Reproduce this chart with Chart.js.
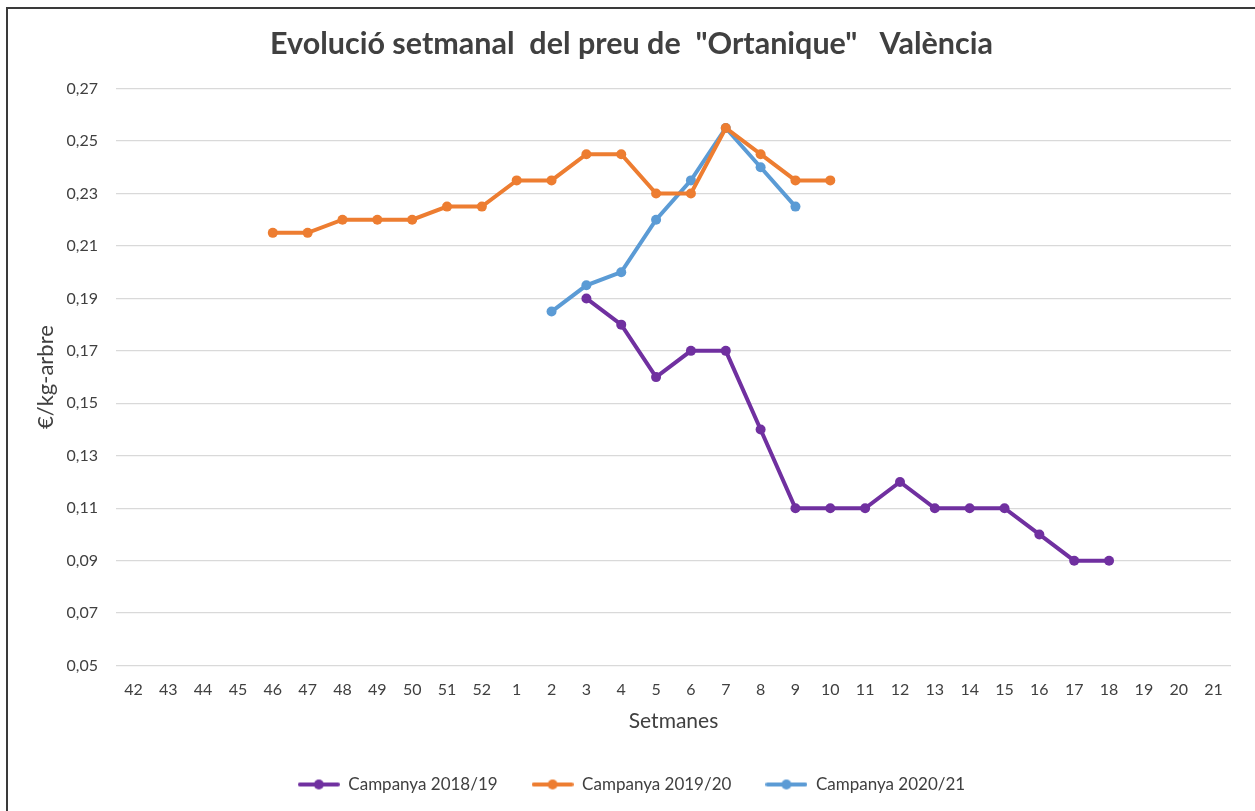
<!DOCTYPE html>
<html lang="ca">
<head>
    <meta charset="UTF-8">
    <title>Evolució setmanal del preu de Ortanique</title>
    <script src="https://cdn.jsdelivr.net/npm/chart.js"></script>
    <style>
        body { margin: 0; background: #fff; }
        .frame { position: absolute; left: 6px; top: 7px; width: 1300px; height: 900px; border: 2px solid #3a3a3a; box-sizing: border-box; }
        .wrap { position: absolute; left: 0; top: 0; width: 1255px; height: 811px; }
    </style>
</head>
<body>
    <div class="frame"></div>
    <div class="wrap">
        <canvas id="grafic" width="1255" height="811"></canvas>
    </div>
    <script>
        // setmanes de la campanya
        const setmanes = ['42','43','44','45','46','47','48','49','50','51','52',
            '1','2','3','4','5','6','7','8','9','10','11','12','13','14','15','16','17','18','19','20','21'];

        const campanya1819 = [null,null,null,null,null,null,null,null,null,null,null,
            null,null,0.19,0.18,0.16,0.17,0.17,0.14,0.11,0.11,0.11,0.12,0.11,0.11,0.11,0.10,0.09,0.09,null,null,null];
        const campanya1920 = [null,null,null,null,0.215,0.215,0.22,0.22,0.22,0.225,0.225,
            0.235,0.235,0.245,0.245,0.23,0.23,0.255,0.245,0.235,0.235,null,null,null,null,null,null,null,null,null,null,null];
        const campanya2021 = [null,null,null,null,null,null,null,null,null,null,null,
            null,0.185,0.195,0.20,0.22,0.235,0.255,0.24,0.225,null,null,null,null,null,null,null,null,null,null,null,null];

        const noms = ['Campanya 2018/19', 'Campanya 2019/20', 'Campanya 2020/21'];
        const colors = ['#7030A0', '#ED7D31', '#5B9BD5'];

        const textColor = '#404040';

        // petita icona linia + punt per a la llegenda
        function iconaLlegenda(color) {
            const c = document.createElement('canvas');
            c.width = 42; c.height = 12;
            const g = c.getContext('2d');
            g.strokeStyle = color;
            g.lineWidth = 4;
            g.lineCap = 'round';
            g.beginPath();
            g.moveTo(2, 6); g.lineTo(40, 6);
            g.stroke();
            g.fillStyle = color;
            g.beginPath();
            g.arc(21, 6, 5, 0, Math.PI * 2);
            g.fill();
            return c;
        }

        function serie(nom, dades, color) {
            return {
                label: nom,
                data: dades,
                borderColor: color,
                backgroundColor: color,
                borderWidth: 4,
                pointRadius: 5,
                pointHoverRadius: 5,
                pointBackgroundColor: color,
                pointBorderWidth: 0,
                tension: 0,
                spanGaps: false
            };
        }

        const ctx = document.getElementById('grafic').getContext('2d');
        new Chart(ctx, {
            type: 'line',
            data: {
                labels: setmanes,
                datasets: [
                    serie(noms[0], campanya1819, colors[0]),
                    serie(noms[1], campanya1920, colors[1]),
                    serie(noms[2], campanya2021, colors[2])
                ]
            },
            options: {
                responsive: false,
                animation: false,
                layout: { padding: { left: 8, right: 0, top: 0, bottom: 8 } },
                plugins: {
                    title: {
                        display: true,
                        text: 'Evolució setmanal  del preu de  "Ortanique"   València',
                        color: textColor,
                        font: { family: 'Lato', size: 30.5, weight: 'bold' },
                        padding: { top: 26, bottom: 26 }
                    },
                    legend: {
                        position: 'bottom',
                        labels: {
                            color: textColor,
                            font: { family: 'Lato', size: 17 },
                            usePointStyle: true,
                            pointStyleWidth: 42,
                            boxHeight: 12,
                            padding: 34,
                            generateLabels: function(chart) {
                                return chart.data.datasets.map((ds, i) => ({
                                    text: ds.label,
                                    fontColor: textColor,
                                    pointStyle: iconaLlegenda(ds.borderColor),
                                    datasetIndex: i,
                                    hidden: false,
                                    lineWidth: 0
                                }));
                            }
                        }
                    },
                    tooltip: { enabled: false }
                },
                scales: {
                    x: {
                        offset: true,
                        grid: { display: false, drawTicks: false },
                        border: { display: false },
                        ticks: {
                            color: textColor,
                            font: { family: 'Lato', size: 16 },
                            padding: 15,
                            maxRotation: 0,
                            autoSkip: false
                        },
                        title: {
                            display: true,
                            text: 'Setmanes',
                            color: textColor,
                            font: { family: 'Lato', size: 21 },
                            padding: { top: -6, bottom: 8 }
                        }
                    },
                    y: {
                        min: 0.05,
                        max: 0.27,
                        grid: { color: '#D9D9D9', lineWidth: 1.3, drawTicks: false },
                        border: { display: false },
                        ticks: {
                            stepSize: 0.02,
                            color: textColor,
                            font: { family: 'Lato', size: 16 },
                            padding: 18,
                            callback: v => v.toFixed(2).replace('.', ',')
                        },
                        title: {
                            display: true,
                            text: '€/kg-arbre',
                            color: textColor,
                            font: { family: 'Lato', size: 22 },
                            padding: { top: 25, bottom: 0 }
                        },
                        afterFit: function(scale) { scale.width = 108; }
                    },
                    // marge dret buit
                    dreta: {
                        position: 'right',
                        grid: { display: false, drawTicks: false },
                        border: { display: false },
                        ticks: { display: false },
                        afterFit: function(scale) { scale.width = 24; }
                    }
                }
            }
        });
    </script>
</body>
</html>
